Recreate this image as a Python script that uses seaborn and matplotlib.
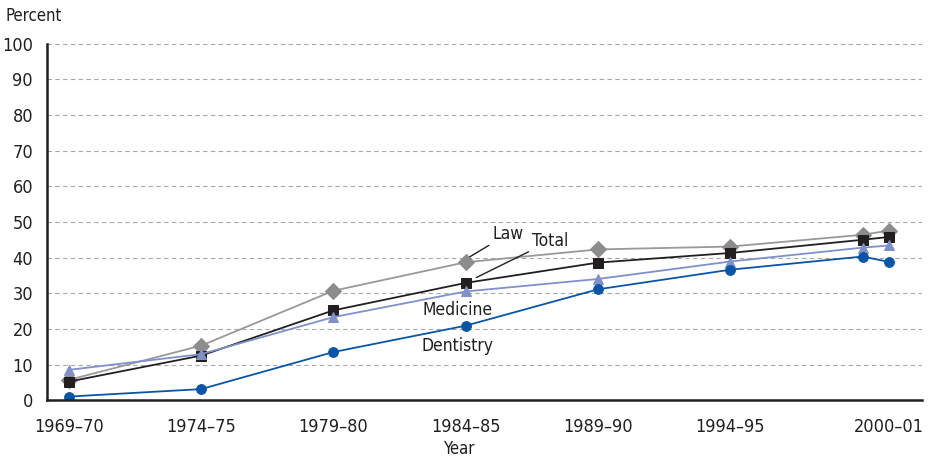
"""
Percentage of first-professional degrees awarded to women, by field
"""

import matplotlib
matplotlib.use('Agg')
import matplotlib.pyplot as plt
import seaborn as sns
import pandas as pd

years = [1969, 1974, 1979, 1984, 1989, 1994, 1999, 2000]
tick_labels = ['1969–70', '1974–75', '1979–80', '1984–85', '1989–90', '1994–95', '', '2000–01']

law = [5.7, 15.3, 30.7, 38.7, 42.3, 43.1, 46.4, 47.6]
total = [5.2, 12.5, 25.2, 32.9, 38.6, 41.3, 45.0, 45.8]
medicine = [8.5, 12.9, 23.3, 30.5, 34.0, 38.9, 42.8, 43.4]
dentistry = [1.0, 3.1, 13.5, 20.9, 31.1, 36.6, 40.3, 38.8]

sns.set_style('white')
plt.rcParams['font.family'] = ['DejaVu Sans Condensed', 'Liberation Sans Narrow', 'DejaVu Sans']
plt.rcParams['font.stretch'] = 'condensed'

fig = plt.figure(figsize=(9.38, 4.61), dpi=100)
ax = fig.add_axes([0.050, 0.132, 0.933, 0.773])

series = [
    (law, '#999999', '#8c8c8c', 'D', 8),
    (total, '#231f20', '#231f20', 's', 7),
    (medicine, '#8090c8', '#8090c8', '^', 7),
    (dentistry, '#0a55a5', '#0a55a5', 'o', 7),
]
for vals, lc, mc, mk, ms in series:
    df = pd.DataFrame({'year': years, 'pct': vals})
    sns.lineplot(data=df, x='year', y='pct', color=lc, marker=mk, markersize=ms,
                 markerfacecolor=mc, markeredgecolor=mc, linewidth=1.3, ax=ax)

ax.set_ylim(0, 100)
ax.set_xlim(1968.17, 2001.25)
ax.set_yticks(range(0, 101, 10))
ax.set_xticks(years)
ax.set_xticklabels(tick_labels)
ax.yaxis.grid(True, linestyle=(0, (4, 3)), color='#a8a8a8', linewidth=0.8)
ax.set_axisbelow(True)
for s in ['top', 'right']:
    ax.spines[s].set_visible(False)
for s in ['left', 'bottom']:
    ax.spines[s].set_color('#231f20')
    ax.spines[s].set_linewidth(1.8)
ax.tick_params(axis='x', length=9, width=1.2, color='#231f20', labelsize=13, pad=4,
               labelcolor='#231f20')
ax.tick_params(axis='y', length=0, labelsize=13, pad=10, labelcolor='#231f20')
ax.set_xlabel('')
ax.set_ylabel('')

fig.text(0.006, 0.965, 'Percent', fontsize=12, color='#231f20', va='center', ha='left')
fig.text(0.49, 0.026, 'Year', fontsize=12, color='#231f20', va='center', ha='center')

# leader-line labels
ax.annotate('Law', xy=(1984.15, 40.2), xytext=(1985.0, 46.6), fontsize=12.5,
            color='#231f20', va='center', ha='left',
            arrowprops=dict(arrowstyle='-', color='#231f20', lw=1, shrinkA=0, shrinkB=0))
ax.annotate('Total', xy=(1984.4, 34.4), xytext=(1986.5, 44.6), fontsize=12.5,
            color='#231f20', va='center', ha='left',
            arrowprops=dict(arrowstyle='-', color='#231f20', lw=1, shrinkA=0, shrinkB=0))
ax.text(1983.7, 25.3, 'Medicine', fontsize=12.5, color='#231f20', va='center', ha='center')
ax.text(1983.7, 15.2, 'Dentistry', fontsize=12.5, color='#231f20', va='center', ha='center')

fig.savefig('out.png', dpi=100)
